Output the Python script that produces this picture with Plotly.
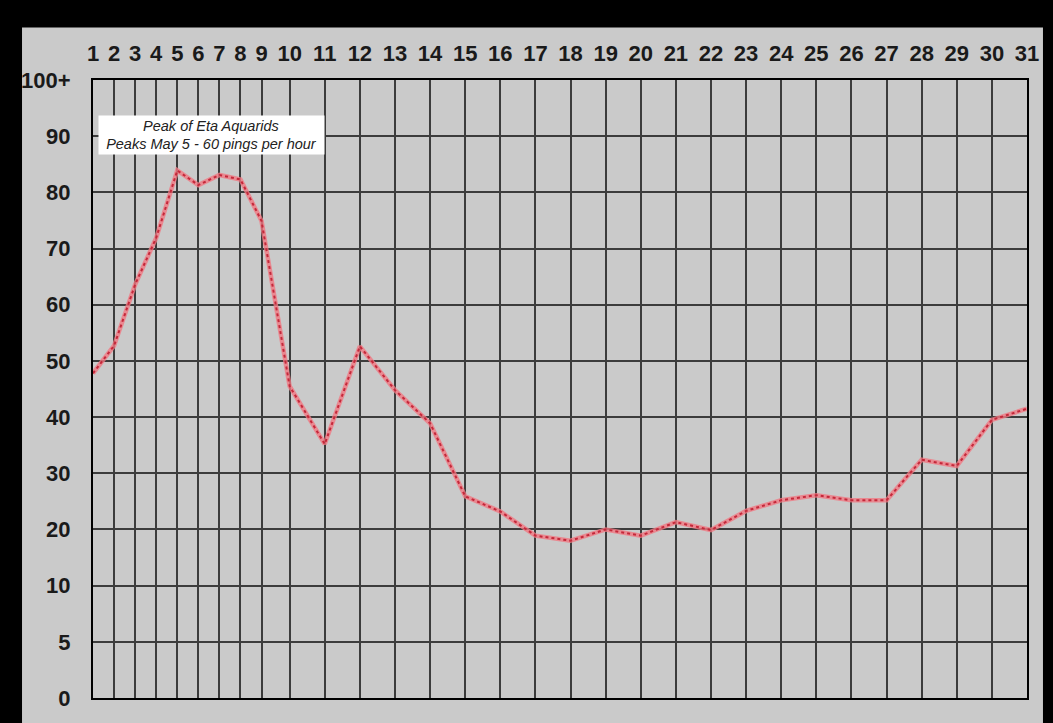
import plotly.graph_objects as go

# ---- data ----
days = list(range(1, 32))
pings = [47.8, 52.7, 63.6, 71.9, 83.9, 81.3, 83.1, 82.3, 74.9, 45.5,
         35.2, 52.6, 44.8, 38.9, 25.9, 23.2, 18.9, 18.0, 20.0, 18.9,
         21.3, 19.9, 23.3, 25.2, 26.1, 25.2, 25.2, 32.4, 31.3, 39.5, 41.5]
y_tick_values = [0, 5, 10, 20, 30, 40, 50, 60, 70, 80, 90, 100]
y_tick_labels = ["0", "5", "10", "20", "30", "40", "50", "60", "70", "80", "90", "100+"]
note_text = "<i>Peak of Eta Aquarids</i><br><i>Peaks May 5 - 60 pings per hour</i>"


# ---- axis scales of the original chart (non-uniform spacing) ----
def day_pos(d):
    # single-digit days are drawn narrower than two-digit days
    if d <= 9:
        return 0.6 * (d - 1)
    return 5.6 + (d - 10)


def val_pos(v):
    # 0, 5, 10, 20, ... 100 are equally spaced rows
    if v <= 10:
        return v / 5.0
    return v / 10.0 + 1.0


xs = [day_pos(d) for d in days]
ys = [val_pos(v) for v in pings]

FONT = "Liberation Sans, Arial, Helvetica, sans-serif"
GRAY = "#cacaca"
GRID = "#3c3c3c"

fig = go.Figure()
fig.add_trace(go.Scatter(x=xs, y=ys, mode="lines",
                         line=dict(color="rgba(240,120,130,0.8)", width=4.5),
                         hoverinfo="skip", showlegend=False))
fig.add_trace(go.Scatter(x=xs, y=ys, mode="lines",
                         line=dict(color="#c4283a", width=2, dash="dot"),
                         customdata=pings, hovertemplate="May %{text}: %{customdata}<extra></extra>",
                         text=[str(d) for d in days], showlegend=False))

fig.update_layout(
    width=1053, height=723,
    margin=dict(l=93, r=26, t=80, b=18),
    paper_bgcolor="black",
    plot_bgcolor=GRAY,
    font=dict(family=FONT, color="#1a1a1a"),
    shapes=[dict(type="rect", xref="paper", yref="paper",
                 x0=-0.076, x1=1.0171, y0=-0.05, y1=1.0848,
                 fillcolor=GRAY, line=dict(width=0), layer="below")],
    annotations=[dict(text=note_text, xref="paper", yref="paper",
                      x=0.1274, y=0.9104, xanchor="center", yanchor="middle",
                      showarrow=False, bgcolor="white", width=225, height=38,
                      borderpad=0, align="center",
                      font=dict(family=FONT, size=14.5, color="#222222"))],
)

fig.update_xaxes(
    range=[day_pos(1), day_pos(31)], side="top",
    tickvals=xs, ticktext=[str(d) for d in days],
    tickfont=dict(family=FONT, size=22, weight="bold", color="#1a1a1a"),
    ticks="", ticklabelstandoff=8,
    showgrid=True, gridcolor=GRID, gridwidth=1.5, zeroline=False,
    showline=True, mirror=True, linecolor="black", linewidth=2,
)
fig.update_yaxes(
    range=[0, val_pos(100)],
    tickvals=[val_pos(v) for v in y_tick_values], ticktext=y_tick_labels,
    tickfont=dict(family=FONT, size=22, weight="bold", color="#1a1a1a"),
    ticks="", ticklabelstandoff=16,
    showgrid=True, gridcolor=GRID, gridwidth=1.5, zeroline=False,
    showline=True, mirror=True, linecolor="black", linewidth=2,
)

fig.write_html(
    "out.html",
    config={"displayModeBar": False},
    post_script="document.body.style.margin='0';document.body.style.background='black';"
                "document.body.style.overflow='hidden';",
)
